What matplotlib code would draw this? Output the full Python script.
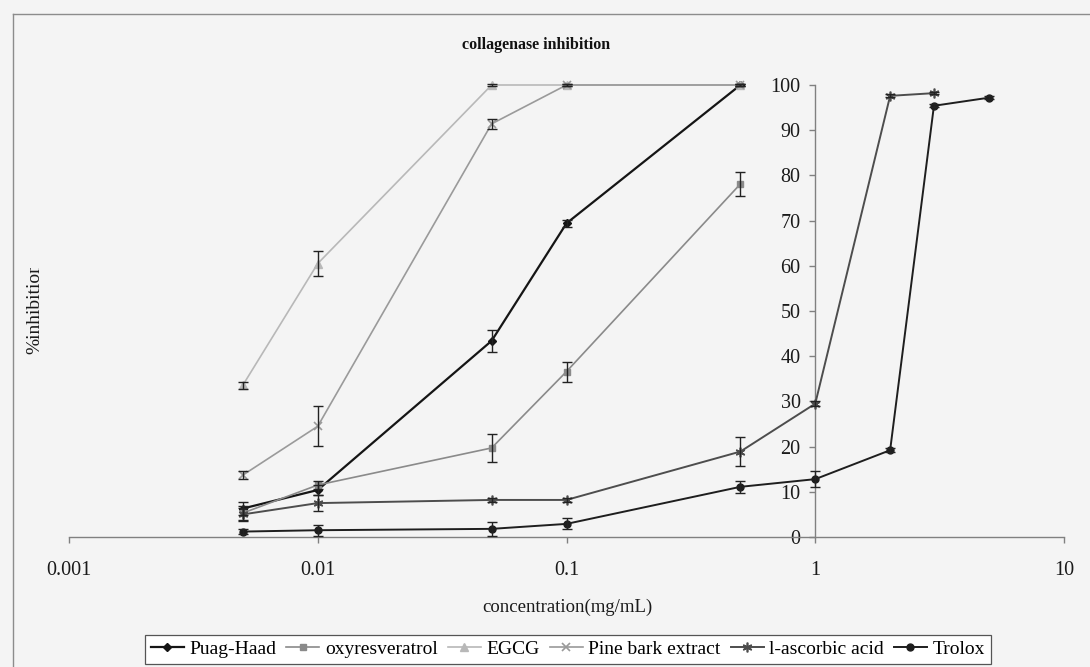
import matplotlib
matplotlib.use("Agg")
import matplotlib.pyplot as plt
from matplotlib.lines import Line2D
from matplotlib.transforms import Bbox

plt.rcParams['font.family'] = ['Liberation Serif', 'DejaVu Serif']

# concentrations (mg/mL)
conc = [0.005, 0.01, 0.05, 0.1, 0.5]
conc_asc = [0.005, 0.01, 0.05, 0.1, 0.5, 1, 2, 3]
conc_tro = [0.005, 0.01, 0.05, 0.1, 0.5, 1, 2, 3, 5]

# % inhibition and SD
puag = [6.3, 10.4, 43.4, 69.4, 100]
puag_sd = [1.5, 1.0, 2.4, 0.8, 0.3]
oxy = [5.3, 11.5, 19.7, 36.6, 78.1]
oxy_sd = [1.5, 0.8, 3.0, 2.2, 2.7]
egcg = [33.6, 60.5, 100, 100, 100]
egcg_sd = [0.8, 2.8, 0.3, 0.3, 0.3]
pine = [13.7, 24.5, 91.4, 100, 100]
pine_sd = [0.8, 4.4, 1.1, 0.3, 0.3]
asc = [5.0, 7.5, 8.2, 8.2, 18.9, 29.5, 97.6, 98.2]
asc_sd = [1.5, 1.8, 0.5, 0.5, 3.3, 0.5, 0.3, 0.3]
tro = [1.2, 1.5, 1.8, 2.9, 11.1, 12.8, 19.2, 95.4, 97.2]
tro_sd = [0.5, 1.2, 1.5, 1.2, 1.3, 1.7, 0.5, 0.3, 0.3]

names = ['Puag-Haad', 'oxyresveratrol', 'EGCG', 'Pine bark extract',
         'l-ascorbic acid', 'Trolox']

bg = '#f4f4f4'
fig = plt.figure(figsize=(10.9, 6.67), dpi=100, facecolor=bg)
ax = fig.add_axes([69/1090, 130/667, 995/1090, 452/667])
ax.set_facecolor(bg)

series = [
    (conc, puag, puag_sd, dict(color='#151515', lw=1.6, marker='D', ms=4.5)),
    (conc, oxy, oxy_sd, dict(color='#8a8a8a', lw=1.2, marker='s', ms=5)),
    (conc, egcg, egcg_sd, dict(color='#b8b8b8', lw=1.2, marker='^', ms=5.5)),
    (conc, pine, pine_sd, dict(color='#9a9a9a', lw=1.2, marker='x', ms=6, mew=1.2)),
    (conc_asc, asc, asc_sd, dict(color='#4d4d4d', lw=1.4, marker=(6, 2, 0), ms=7, mew=1.2)),
    (conc_tro, tro, tro_sd, dict(color='#1e1e1e', lw=1.4, marker='o', ms=5)),
]

handles = []
for (x, y, sd, st), nm in zip(series, names):
    ln, = ax.plot(x, y, label=nm, clip_on=False, zorder=3, **st)
    handles.append(ln)
    ax.errorbar(x, y, yerr=sd, fmt='none', ecolor='#222222', elinewidth=1.0,
                capsize=3.5, capthick=1.0, zorder=4, clip_on=False)

ax.set_xscale('log')
ax.set_xlim(0.001, 10)
ax.set_ylim(0, 100)
ax.set_xticks([0.001, 0.01, 0.1, 1, 10])
ax.set_xticklabels(['0.001', '0.01', '0.1', '1', '10'])
ax.minorticks_off()
ax.set_yticks(range(0, 101, 10))

for s in ['top', 'right']:
    ax.spines[s].set_visible(False)
ax.spines['left'].set_position(('data', 1))
for s in ['left', 'bottom']:
    ax.spines[s].set_color('#808080')
    ax.spines[s].set_linewidth(1.0)
ax.tick_params(axis='both', direction='out', length=4.5, width=1.0,
               color='#808080', labelsize=14.5, labelcolor='#1a1a1a')
ax.tick_params(axis='x', pad=13)
ax.tick_params(axis='y', pad=6)

fig.text(536/1090, 1 - 45/667, 'collagenase inhibition', ha='center',
         va='center', fontsize=11.5, fontweight='bold', color='#111111')
fig.text(567/1090, 1 - 607/667, 'concentration(mg/mL)', ha='center',
         va='center', fontsize=13.5, color='#1a1a1a')

# y label sits against the frame edge, its last letter is cut off
yl = fig.text(35/1090, 1 - 354/667, '%inhibition', rotation=90, ha='center',
              va='bottom', fontsize=14, color='#1a1a1a')
yl.set_clip_box(Bbox.from_extents(0, 0, 1090, 667 - 268))
yl.set_clip_on(True)

# outer chart frame
fig.add_artist(Line2D([13/1090, 13/1090], [0, 1 - 14/667], color='#8c8c8c', lw=1.0))
fig.add_artist(Line2D([13/1090, 1], [1 - 14/667, 1 - 14/667], color='#8c8c8c', lw=1.0))

leg = fig.legend(handles=handles, loc='lower center', ncol=6,
                 bbox_to_anchor=(568/1090, 3/667), fontsize=14,
                 frameon=True, fancybox=False, edgecolor='#555555',
                 facecolor='white', framealpha=1, handlelength=1.7,
                 handletextpad=0.3, columnspacing=0.5, borderpad=0.3,
                 borderaxespad=0)
leg.get_frame().set_linewidth(0.9)

fig.savefig('out.png', dpi=100, facecolor=bg)
